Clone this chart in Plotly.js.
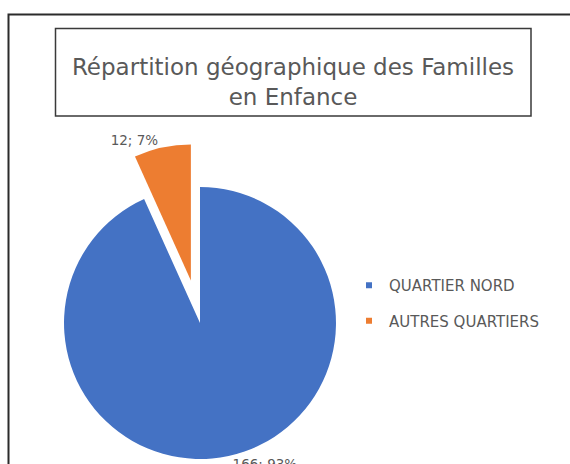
<!DOCTYPE html>
<html>
<head>
<meta charset="utf-8">
<script src="https://cdn.plot.ly/plotly-3.0.1.min.js"></script>
<style>
html,body{margin:0;padding:0;overflow:hidden;background:#fff;}
#chart{width:570px;height:520px;}
</style>
</head>
<body>
<div id="chart"></div>
<script>
const categories = ['QUARTIER NORD', 'AUTRES QUARTIERS'];
const values = [166, 12];
const colors = ['#4472C4', '#ED7D31'];
const pulls = [0, 0.32];
const chartTitle = 'Répartition géographique des Familles<br>en Enfance';

const W = 570, H = 520;
const fontFam = '"DejaVu Sans", "Open Sans", sans-serif';
const grey = '#595959';

const pie = {
  type: 'pie',
  labels: categories,
  values: values,
  marker: {colors: colors, line: {width: 0}},
  pull: pulls,
  sort: false,
  direction: 'clockwise',
  rotation: 0,
  texttemplate: '%{value}; %{percent:.0%}',
  textposition: 'outside',
  textfont: {family: fontFam, size: 13.5, color: grey},
  showlegend: false,
  hoverinfo: 'label+value+percent',
  domain: {x: [20.5 / W, 379.5 / W], y: [(H - 502.5) / H, (H - 143.5) / H]}
};

const legendTraces = categories.map((c, i) => ({
  type: 'scatter',
  mode: 'markers',
  x: [null], y: [null],
  name: c,
  legendgroup: 'g' + i,
  marker: {symbol: 'square', size: 6, color: colors[i]},
  hoverinfo: 'skip',
  showlegend: true
}));

const layout = {
  width: W, height: H,
  margin: {l: 0, r: 0, t: 0, b: 0},
  paper_bgcolor: '#ffffff',
  plot_bgcolor: '#ffffff',
  font: {family: fontFam, color: grey},
  title: {
    text: chartTitle,
    font: {family: fontFam, size: 23, color: grey},
    x: 293 / W, xanchor: 'center', xref: 'paper',
    y: 1 - 75 / H, yanchor: 'middle', yref: 'container'
  },
  xaxis: {visible: false},
  yaxis: {visible: false},
  showlegend: true,
  legend: {
    x: 349 / W, xanchor: 'left',
    y: 1 - 269 / H, yanchor: 'top',
    traceorder: 'grouped',
    tracegroupgap: 13,
    font: {family: fontFam, size: 15, color: grey},
    bgcolor: 'rgba(0,0,0,0)'
  },
  shapes: [
    {type: 'rect', xref: 'paper', yref: 'paper',
     x0: 8.5 / W, x1: 1.2, y0: -0.2, y1: 1 - 14.5 / H,
     line: {color: '#2b2b2b', width: 2}},
    {type: 'rect', xref: 'paper', yref: 'paper',
     x0: 55.5 / W, x1: 531 / W, y0: 1 - 116 / H, y1: 1 - 28.5 / H,
     line: {color: '#3a3a3a', width: 1.5}}
  ]
};

Plotly.newPlot('chart', [pie].concat(legendTraces), layout, {displayModeBar: false, staticPlot: true});
</script>
</body>
</html>
